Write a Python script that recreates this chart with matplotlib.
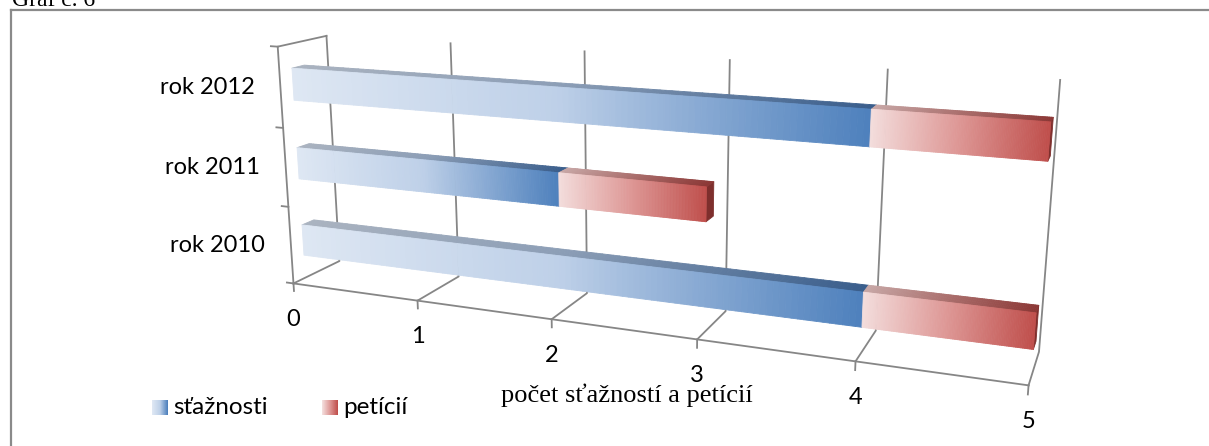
import numpy as np
import matplotlib
matplotlib.use("Agg")
import matplotlib.pyplot as plt
from matplotlib.patches import Rectangle
from matplotlib.transforms import offset_copy
from mpl_toolkits.mplot3d import proj3d
from mpl_toolkits.mplot3d.art3d import Poly3DCollection

# data
years = ['rok 2010', 'rok 2011', 'rok 2012']
staznosti = [4, 2, 4]
peticii = [1, 1, 1]
x_ticks = [0, 1, 2, 3, 4, 5]
series_names = ['sťažnosti', 'petícií']

# gradient stops (position, rgb)
blue_front = [(0, (222, 231, 243)), (0.5, (190, 208, 232)), (1, (79, 129, 189))]
blue_top = [(0, (170, 179, 192)), (0.5, (140, 158, 182)), (1, (58, 94, 140))]
red_front = [(0, (243, 221, 220)), (0.5, (222, 152, 150)), (1, (192, 80, 77))]
red_top = [(0, (200, 168, 167)), (0.5, (170, 110, 108)), (1, (140, 56, 54))]
red_end = '#7e2f2d'
grid_col = '#868686'

font_cal = 'Lato'
font_serif = 'Liberation Serif'


def ramp(stops, n):
    pos = np.linspace(0, 1, n)
    st = np.array([s[0] for s in stops], dtype=float)
    cols = np.array([s[1] for s in stops], dtype=float) / 255
    return np.stack([np.interp(pos, st, cols[:, c]) for c in range(3)], axis=1)


W, H = 1209, 446
fig = plt.figure(figsize=(W / 100, H / 100), dpi=100)

S = 805
left, bottom = 226, -159
ax = fig.add_axes([left / W, bottom / H, S / W, S / H], projection='3d',
                  computed_zorder=False)
ax.set_proj_type('persp', focal_length=0.312)
ax.view_init(elev=14.4, azim=-68.3, roll=0)
ax.set_box_aspect((5, 0.567, 1.67), zoom=1)
ax.set_xlim(0, 5)
ax.set_ylim(0, 1)
ax.set_zlim(0, 3)
ax.set_axis_off()
ax.patch.set_visible(False)

xmax = x_ticks[-1]
ncat = len(years)
lkw = dict(color=grid_col, lw=1.3, zorder=1, clip_on=False)

# floor + back wall gridlines
for xv in x_ticks:
    ax.plot([xv, xv, xv], [0, 1, 1], [0, 0, ncat], **lkw)
    ax.plot([xv, xv], [0, 0], [0, -0.1], **lkw)
ax.plot([0, xmax], [0, 0], [0, 0], **lkw)
# left wall
ax.plot([0, 0, 0], [1, 0, 0], [ncat, ncat, 0], **lkw)
for k in range(ncat + 1):
    ax.plot([0, -0.055], [0, 0], [k, k], **lkw)

# bars
y0, y1 = 0.25, 0.5
half = 0.2
N = 100
polys, cols = [], []
for i in range(ncat):
    zlo, zhi = i + 0.5 - half, i + 0.5 + half
    segs = [(0, staznosti[i], blue_front, blue_top),
            (staznosti[i], staznosti[i] + peticii[i], red_front, red_top)]
    for a, b, fst, tst in segs:
        xs = np.linspace(a, b, N + 1)
        fc = ramp(fst, N)
        tc = ramp(tst, N)
        for k in range(N):
            xa, xb = xs[k], xs[k + 1]
            polys.append([(xa, y0, zlo), (xb, y0, zlo), (xb, y0, zhi), (xa, y0, zhi)])
            cols.append(fc[k])
            polys.append([(xa, y0, zhi), (xb, y0, zhi), (xb, y1, zhi), (xa, y1, zhi)])
            cols.append(tc[k])
    end = staznosti[i] + peticii[i]
    polys.append([(end, y0, zlo), (end, y1, zlo), (end, y1, zhi), (end, y0, zhi)])
    cols.append(matplotlib.colors.to_rgb(red_end))

pc = Poly3DCollection(polys, facecolors=cols, edgecolors=cols, linewidths=0.6)
pc.set_zorder(2)
pc.set_clip_on(False)
ax.add_collection3d(pc)

# labels: project 3D anchor points, then place as 2D text
M = ax.get_proj()
xt = np.array(x_ticks, dtype=float)
tx, ty, _ = proj3d.proj_transform(xt, np.zeros_like(xt), np.zeros_like(xt), M)
tick_tr = offset_copy(ax.transData, fig=fig, x=0, y=-36, units='dots')
for xv, px, py in zip(x_ticks, tx, ty):
    ax.text2D(px, py, str(xv), ha='center', va='center', fontsize=17,
              family=font_cal, transform=tick_tr, clip_on=False)

zc = np.arange(ncat) + 0.5
cx, cy, _ = proj3d.proj_transform(np.zeros(ncat), np.zeros(ncat), zc, M)
cat_tr = offset_copy(ax.transData, fig=fig, x=-26, y=0, units='dots')
for name, px, py in zip(years, cx, cy):
    ax.text2D(px, py, name, ha='right', va='center', fontsize=17,
              family=font_cal, transform=cat_tr, clip_on=False)

# axis title
fig.text(627 / W, 1 - 395 / H, 'počet sťažností a petícií', ha='center', va='center',
         fontsize=19, family=font_serif)

# caption (cut off at top)
fig.text(12 / W, 1 - 6 / H, 'Graf č. 6', ha='left', va='baseline',
         fontsize=17, family=font_serif)

# chart frame
fig.add_artist(plt.Line2D([11 / W, 11 / W], [1 - 10 / H, -0.1], color='#8a8a8a', lw=1.6))
fig.add_artist(plt.Line2D([11 / W, 1.1], [1 - 10 / H, 1 - 10 / H], color='#8a8a8a', lw=1.6))

# legend
def grad_square(x, stops):
    n = 16
    c = ramp(stops, n)
    for k in range(n):
        fig.add_artist(Rectangle(((x + k) / W, 1 - 415 / H), 1.05 / W, 15 / H,
                                 facecolor=c[k], edgecolor='none'))

grad_square(152, blue_front)
grad_square(322, red_front)
fig.text(173 / W, 1 - 407 / H, series_names[0], ha='left', va='center',
         fontsize=17.5, family=font_cal)
fig.text(343 / W, 1 - 407 / H, series_names[1], ha='left', va='center',
         fontsize=17.5, family=font_cal)

fig.savefig('out.png', dpi=100)
